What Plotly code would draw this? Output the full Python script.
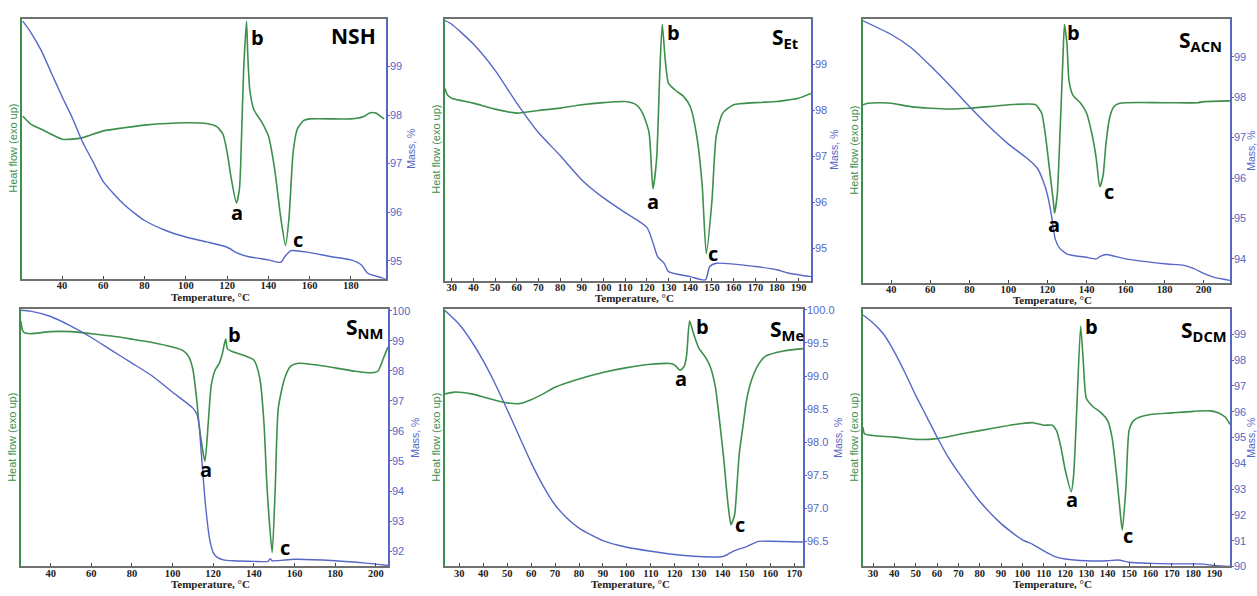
import plotly.graph_objects as go

# ---------------- data (temperature °C, heat flow in arbitrary units 0-100, mass %) -------------
panel_labels = ["NSH", "S<sub>Et</sub>", "S<sub>ACN</sub>", "S<sub>NM</sub>", "S<sub>Me</sub>", "S<sub>DCM</sub>"]

# NSH
nsh_hf_t = [21, 25, 30, 40, 45, 50, 60, 70, 80, 100, 110, 115, 118, 120, 122, 124.5, 126, 127, 128, 129.4, 130, 131, 133, 137, 140, 143, 146, 148.3, 150, 152, 154, 157, 160, 180, 186, 189, 192, 196]
nsh_hf = [62.5, 59.4, 57.5, 53.7, 53.7, 54.3, 56.9, 58.1, 59.1, 60, 59.7, 58.5, 55.6, 48.7, 38.6, 29.2, 34.8, 55, 80.1, 99, 86.4, 72.6, 65, 60, 55, 42.4, 23.5, 12.8, 23.5, 48.7, 57.5, 60.8, 61.5, 61.5, 62.3, 63.8, 63.8, 61.5]
nsh_m_t = [21, 25, 30, 35, 40, 45, 50, 55, 60, 70, 80, 90, 100, 110, 120, 125, 130, 140, 146, 148, 151, 160, 170, 180, 185, 188, 195, 197]
nsh_m = [99.93, 99.69, 99.32, 98.85, 98.38, 97.94, 97.44, 97.04, 96.63, 96.16, 95.83, 95.63, 95.49, 95.39, 95.28, 95.16, 95.09, 95.02, 94.97, 95.09, 95.21, 95.17, 95.09, 95.02, 94.92, 94.75, 94.65, 94.62]

# S_Et
et_hf_t = [26.9, 28, 30, 40, 50, 60, 70, 80, 90, 100, 110, 115, 118, 121, 122.8, 124.5, 126, 127.1, 128.5, 130, 133, 137, 140, 143, 145.5, 147.4, 150, 152, 155, 160, 170, 180, 185, 190, 195.7]
et_hf = [73.4, 70.9, 69.7, 67.8, 65.5, 64.0, 65.0, 65.9, 67.2, 68.0, 68.4, 67.2, 64.0, 56.6, 35.1, 46.6, 80.3, 97.8, 84, 75.3, 72.8, 70.3, 66.5, 55.3, 36.6, 10.4, 30.3, 55.3, 64.0, 67.2, 68.0, 68.4, 69, 69.7, 71.5]
et_m_t = [26.9, 30, 40, 50, 60, 70, 80, 90, 100, 110, 120, 123, 125, 128, 130, 140, 147, 149, 152, 170, 180, 185, 195.7]
et_m = [99.95, 99.87, 99.44, 98.87, 98.16, 97.52, 97.02, 96.49, 96.10, 95.78, 95.46, 95.1, 94.82, 94.68, 94.50, 94.39, 94.32, 94.61, 94.68, 94.61, 94.54, 94.47, 94.39]

# S_ACN
acn_hf_t = [25.5, 28, 35, 40, 50, 60, 70, 80, 90, 100, 110, 114, 117, 119, 121, 123, 123.6, 125, 126.5, 128, 128.7, 130, 131, 133, 137, 140, 143, 145, 146.8, 148.5, 150, 152, 154, 157, 180, 197, 200, 213.5]
acn_hf = [67.4, 68, 68.2, 68, 66.7, 66.1, 65.8, 66.1, 66.7, 67.4, 67.7, 67.4, 64.3, 55.6, 43.2, 30.8, 26.4, 33.3, 58.1, 86.6, 97.8, 90.3, 76.7, 71.1, 68, 64.3, 55.6, 46.9, 36.4, 40.7, 53.1, 63, 66.7, 68, 68.2, 68.2, 68.6, 68.9]
acn_m_t = [25.5, 40, 50, 60, 70, 80, 90, 100, 110, 115, 118, 120, 122, 123, 124, 126, 130, 140, 145, 147, 150, 160, 180, 190, 195, 200, 205, 213.5]
acn_m = [99.89, 99.55, 99.23, 98.78, 98.29, 97.77, 97.28, 96.84, 96.47, 96.23, 95.90, 95.58, 95.09, 94.77, 94.49, 94.28, 94.12, 94.04, 94.0, 94.06, 94.11, 94.0, 93.88, 93.84, 93.76, 93.64, 93.55, 93.47]

# S_NM
nm_hf_t = [25.4, 26, 27, 30, 40, 50, 60, 70, 80, 90, 100, 105, 108, 110, 112, 113, 115.9, 117.5, 119, 121, 123, 124.5, 126.1, 127, 130, 135, 140, 143, 145, 146.5, 149, 150.5, 152, 155, 158, 162, 170, 180, 190, 198, 201, 204, 206]
nm_hf = [95.3, 92.1, 90.9, 90.5, 91.3, 91.3, 90.5, 89.6, 88.4, 87.1, 85.3, 84, 81.5, 76.5, 64, 55.3, 40.9, 55.3, 70.3, 76.5, 79, 82.8, 88.4, 84.6, 83.4, 82.1, 80.3, 72.8, 55.3, 30.3, 5.4, 30.3, 61.5, 72.8, 77.8, 79, 78.4, 77.2, 75.9, 75.3, 75.9, 81.5, 85.3]
nm_m_t = [25.4, 30, 40, 50, 60, 70, 80, 90, 100, 110, 112, 113, 114, 115, 116, 117, 118, 119, 120, 122, 125, 130, 140, 147, 148, 149, 160, 180, 195, 206]
nm_m = [100.02, 99.99, 99.81, 99.49, 99.11, 98.68, 98.26, 97.83, 97.29, 96.76, 96.55, 96.22, 95.37, 94.51, 93.66, 93.02, 92.48, 92.16, 91.95, 91.79, 91.71, 91.68, 91.66, 91.66, 91.75, 91.68, 91.73, 91.68, 91.60, 91.52]

# S_Me
me_hf_t = [24, 28, 35, 40, 45, 50, 55, 60, 65, 70, 80, 90, 100, 110, 118, 120, 122.2, 124, 125, 126.2, 128, 130, 133, 135, 137, 139, 140.5, 142, 143, 143.5, 145, 146, 147, 148.5, 150, 152, 155, 158, 165, 173.6]
me_hf = [67.1, 67.8, 67.1, 65.9, 64.6, 63.6, 63.3, 64.8, 67.1, 69.7, 72.9, 75.4, 77.3, 78.6, 78.9, 78.3, 76.3, 77.9, 82.4, 95.4, 90.1, 85, 81.1, 77.3, 69.7, 54.4, 41.7, 26.4, 18.7, 16.2, 20, 31.5, 44.2, 54.4, 64.6, 72.2, 78.6, 81.8, 83.7, 84.7]
me_m_t = [24, 30, 35, 40, 45, 50, 55, 60, 65, 70, 75, 80, 90, 100, 110, 120, 130, 140, 142, 145, 150, 155, 160, 173.6]
me_m = [99.99, 99.78, 99.53, 99.23, 98.88, 98.49, 98.09, 97.69, 97.34, 97.05, 96.85, 96.70, 96.51, 96.41, 96.35, 96.30, 96.27, 96.27, 96.30, 96.36, 96.42, 96.50, 96.50, 96.49]

# S_DCM
dcm_hf_t = [25.3, 26, 30, 40, 50, 60, 70, 80, 90, 100, 105, 110, 114, 116, 118, 120, 122.9, 124, 125.5, 127.3, 128.5, 130, 133, 137, 140, 142, 144, 145.5, 146.8, 148.5, 150, 152, 155, 160, 170, 180, 188, 192, 195, 197.3]
dcm_hf = [54.1, 51.6, 50.9, 50.3, 49.4, 49.7, 51.3, 52.8, 54.3, 55.6, 55.9, 54.9, 54.9, 52.8, 46.6, 37.8, 29.1, 35.3, 61.5, 93.4, 80.3, 65.3, 62.2, 59.7, 56.6, 50.3, 36.6, 24.1, 14.1, 30.3, 52.8, 56.6, 58.1, 59.1, 59.7, 60.3, 60.5, 59.7, 58.1, 55.3]
dcm_m_t = [25.3, 30, 35, 40, 45, 50, 55, 60, 65, 70, 80, 90, 100, 105, 110, 115, 120, 130, 140, 145, 150, 160, 170, 180, 185, 190, 197.3]
dcm_m = [99.75, 99.44, 99.0, 98.32, 97.51, 96.63, 95.83, 95.02, 94.27, 93.65, 92.53, 91.66, 91.03, 90.85, 90.60, 90.39, 90.29, 90.22, 90.22, 90.25, 90.16, 90.12, 90.10, 90.10, 90.09, 90.04, 90.0]

x_ranges = [[20.6, 197], [26.9, 195.7], [25.5, 213.5], [25.4, 206], [24.0, 173.6], [25.3, 197.3]]
x_ticks = [list(range(40, 181, 20)), list(range(30, 191, 10)), list(range(40, 201, 20)),
           list(range(40, 201, 20)), list(range(30, 171, 10)), list(range(30, 191, 10))]
m_ranges = [[94.63, 99.98], [94.30, 99.99], [93.41, 99.94], [91.49, 100.05], [96.12, 100.01], [90.0, 99.97]]
m_ticks = [[95, 96, 97, 98, 99], [95, 96, 97, 98, 99], [94, 95, 96, 97, 98, 99],
           [92, 93, 94, 95, 96, 97, 98, 99, 100], [96.5, 97.0, 97.5, 98.0, 98.5, 99.0, 99.5, 100.0],
           [90, 91, 92, 93, 94, 95, 96, 97, 98, 99]]
m_fmt = ["d", "d", "d", "d", ".1f", "d"]

# letter annotation positions (temperature, heat-flow units)
letters = [
    [("a", 124.7, 25.5), ("b", 134.7, 92.7), ("c", 154.2, 15.1)],
    [("a", 122.8, 30.3), ("b", 132.3, 94.6), ("c", 150.5, 10.6)],
    [("a", 123.1, 22.1), ("b", 133.5, 94.7), ("c", 151.7, 34.7)],
    [("a", 116.4, 37.8), ("b", 130.7, 90.3), ("c", 155.2, 7.2)],
    [("a", 122.6, 72.9), ("b", 131.4, 93.2), ("c", 147.4, 16.2)],
    [("a", 123.2, 26.0), ("b", 132.2, 93.4), ("c", 149.4, 11.9)],
]
label_pos = [(181.1, 93.3), (183.8, 92.8), (198.6, 91.6), (194.6, 92.8), (166.9, 92.0), (185.3, 91.5)]

hf_series = [(nsh_hf_t, nsh_hf), (et_hf_t, et_hf), (acn_hf_t, acn_hf), (nm_hf_t, nm_hf), (me_hf_t, me_hf), (dcm_hf_t, dcm_hf)]
m_series = [(nsh_m_t, nsh_m), (et_m_t, et_m), (acn_m_t, acn_m), (nm_m_t, nm_m), (me_m_t, me_m), (dcm_m_t, dcm_m)]

# ---------------- layout geometry (pixels) ----------------
W, H = 1257, 596
boxes = [(22, 386, 14, 279), (445, 811, 14, 281), (863, 1230, 14, 283),
         (21, 388, 310, 572), (445, 803, 310, 572), (863, 1230, 310, 572)]
mass_title_gap = [25, 23, 21, 27, 35, 21]

GREEN = "#3d8f4c"
BLUE = "#5667c6"

fig = go.Figure()
layout = dict(width=W, height=H, margin=dict(l=0, r=0, t=0, b=0),
              paper_bgcolor="white", plot_bgcolor="white", showlegend=False)
annotations = []

for i in range(6):
    n = i + 1
    xa = "x" if n == 1 else f"x{n}"
    yl_n = 2 * i + 1
    yr_n = 2 * i + 2
    yl = "y" if yl_n == 1 else f"y{yl_n}"
    yr = f"y{yr_n}"
    L, R, T, B = boxes[i]
    dx = [L / W, R / W]
    dy = [1 - B / H, 1 - T / H]

    t, v = hf_series[i]
    fig.add_trace(go.Scatter(x=t, y=v, xaxis=xa, yaxis=yl, mode="lines",
                             line=dict(color=GREEN, width=1.6, shape="spline", smoothing=0.6)))
    t, v = m_series[i]
    fig.add_trace(go.Scatter(x=t, y=v, xaxis=xa, yaxis=yr, mode="lines",
                             line=dict(color=BLUE, width=1.4, shape="spline", smoothing=0.6)))

    xkey = "xaxis" if n == 1 else f"xaxis{n}"
    ylkey = "yaxis" if yl_n == 1 else f"yaxis{yl_n}"
    yrkey = f"yaxis{yr_n}"

    layout[xkey] = dict(domain=dx, anchor=yl, range=x_ranges[i], tickvals=x_ticks[i],
                        showgrid=False, zeroline=False, showline=True, linecolor="#707070",
                        linewidth=2, mirror=True, ticks="inside", ticklen=3, tickcolor="#444",
                        ticklabelstandoff=-4,
                        tickfont=dict(family="Liberation Serif", size=10.5, color="#222", weight="bold"))
    layout[ylkey] = dict(domain=dy, anchor=xa, range=[0, 100], showticklabels=False, ticks="",
                         showgrid=False, zeroline=False, showline=True, linecolor=GREEN, linewidth=1.6)
    layout[yrkey] = dict(domain=dy, anchor=xa, overlaying=yl, side="right", range=m_ranges[i],
                         tickvals=m_ticks[i], tickformat=m_fmt[i], showgrid=False, zeroline=False,
                         showline=True, linecolor=BLUE, linewidth=1.6, ticks="outside", ticklen=2,
                         ticklabelstandoff=-2,
                         tickcolor=BLUE, tickfont=dict(family="Liberation Sans", size=11, color=BLUE))

    # axis titles as annotations (paper coordinates from pixel geometry)
    ty = min(B + 18, 590)
    annotations.append(dict(x=((L + R) / 2 + 6) / W, y=1 - ty / H, xref="paper", yref="paper",
                            text="Temperature, °C", showarrow=False, xanchor="center", yanchor="middle",
                            font=dict(family="Liberation Serif", size=11, color="#222", weight="bold")))
    annotations.append(dict(x=(L - 9) / W, y=1 - (T + B) / 2 / H, xref="paper", yref="paper",
                            text="Heat flow (exo up)", showarrow=False, textangle=-90,
                            xanchor="center", yanchor="middle",
                            font=dict(family="Liberation Sans", size=11, color=GREEN)))
    annotations.append(dict(x=(R + mass_title_gap[i]) / W, y=1 - (T + B) / 2 / H, xref="paper", yref="paper",
                            text="Mass, %", showarrow=False, textangle=-90,
                            xanchor="center", yanchor="middle",
                            font=dict(family="Liberation Sans", size=10.5, color=BLUE)))

    for txt, lx, ly in letters[i]:
        annotations.append(dict(x=lx, y=ly, xref=xa, yref=yl, text=txt, showarrow=False,
                                font=dict(family="Open Sans", size=20, color="black", weight="bold")))
    px, py = label_pos[i]
    annotations.append(dict(x=px, y=py, xref=xa, yref=yl, text=panel_labels[i], showarrow=False,
                            font=dict(family="Open Sans", size=21, color="black", weight="bold")))

layout["annotations"] = annotations
fig.update_layout(**layout)
fig.write_html("out.html")
